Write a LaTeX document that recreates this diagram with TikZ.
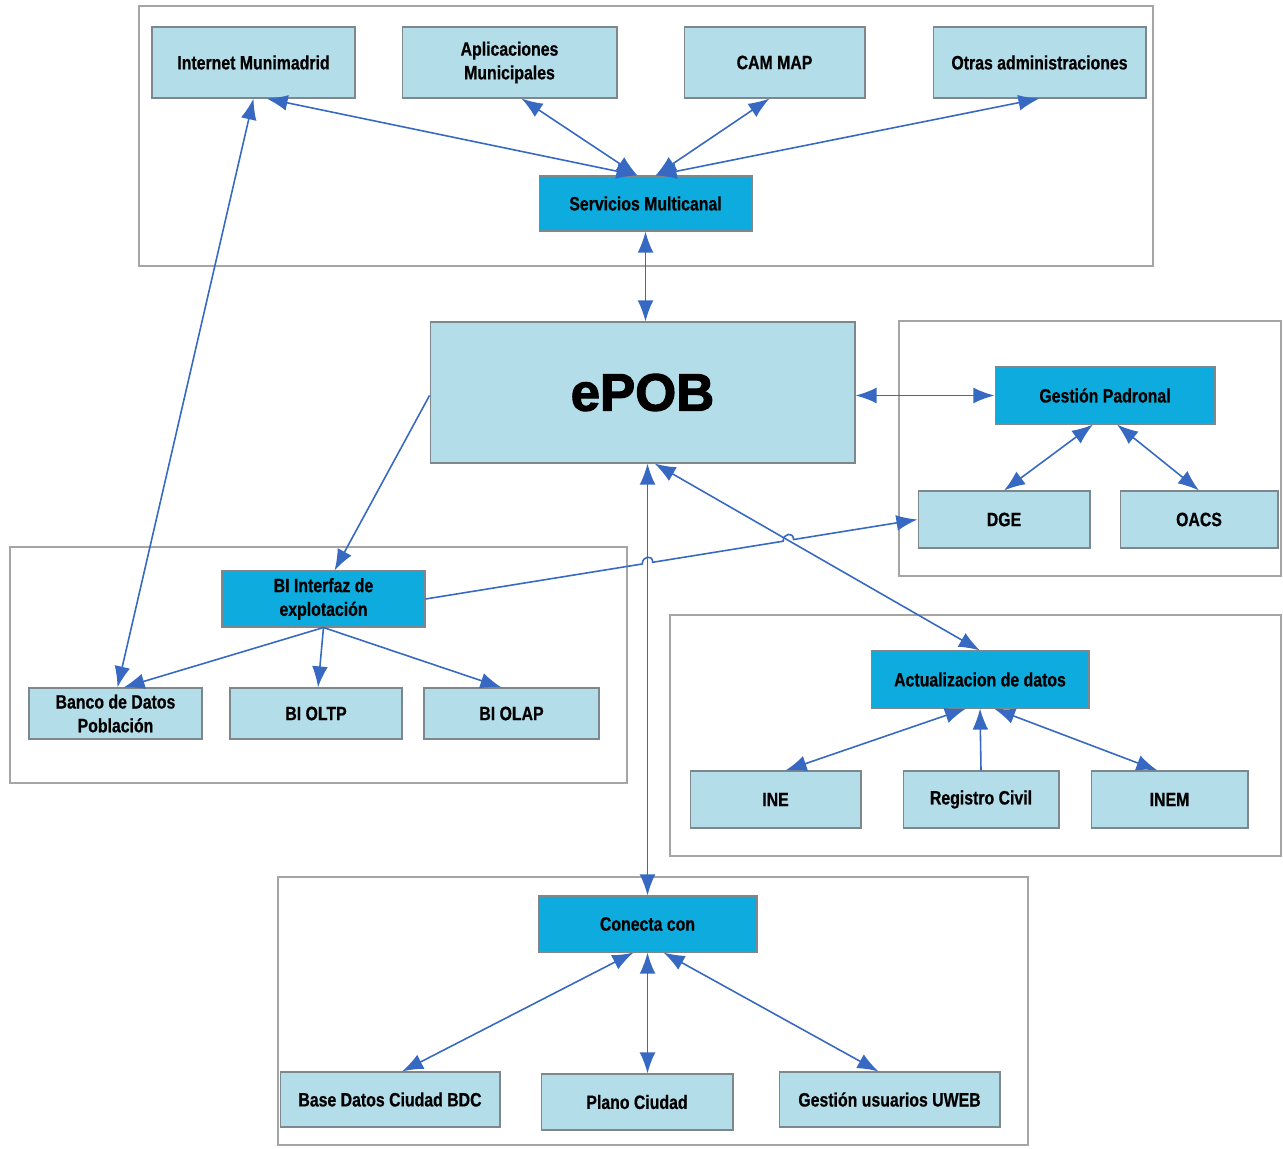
\documentclass[tikz,border=0pt]{standalone}
\usepackage{fontspec}
\setmainfont{Liberation Sans}
\newfontfamily\boxfont{Liberation Sans}[FakeStretch=0.82, FakeBold=0.6]
\newfontfamily\titlefont{Liberation Sans}[FakeBold=2.2]
\usetikzlibrary{arrows.meta,calc,intersections,positioning}
\definecolor{boxlight}{RGB}{178,221,233}
\definecolor{boxdark}{RGB}{14,172,222}
\definecolor{boxedge}{RGB}{125,135,140}
\definecolor{frameedge}{RGB}{165,165,165}
\definecolor{linkblue}{RGB}{55,105,195}
\tikzset{
        box/.style={align=center,inner sep=0pt,draw=boxedge,line width=0.6pt,font=\boxfont\bfseries\fontsize{11}{13.5}\selectfont},
        % Dimensions of a box
        dims/.style 2 args={minimum width=#1,minimum height=#2},
        % Light boxes
        box_light/.style={box, fill=boxlight},
        % Dark boxes
        box_dark/.style={box, fill=boxdark},
        % Group frames
        box_frame/.style={draw=frameedge, line width=0.9pt},
        % Connectors
        link/.style={draw=linkblue, line width=0.9pt, >={Latex[length=12pt,width=9pt]}}
}

\begin{document}
\begin{tikzpicture}[x=0.02cm, y=-0.02cm]
            \useasboundingbox (0,0) rectangle (1283,1148);
            % frames
            \draw[box_frame] (139,6) rectangle (1153,266);
            \draw[box_frame] (899,321) rectangle (1281,576);
            \draw[box_frame] (10,547) rectangle (627,783);
            \draw[box_frame] (670,615) rectangle (1281,856);
            \draw[box_frame] (278,877) rectangle (1028,1145);

            % top group
            \node[box_light, dims={4.06cm}{1.42cm}] (internet) at (253.5,62.5) {Internet Munimadrid};
            \node[box_light, dims={4.30cm}{1.42cm}] (aplic) at (509.5,62.5) {Aplicaciones\\Municipales};
            \node[box_light, dims={3.62cm}{1.42cm}] (cam) at (774.5,62.5) {CAM MAP};
            \node[box_light, dims={4.26cm}{1.42cm}] (otras) at (1039.5,62.5) {Otras administraciones};
            \node[box_dark, dims={4.26cm}{1.10cm}] (servicios) at (645.5,203.5) {Servicios Multicanal};

            % centre
            \node[box_light, dims={8.50cm}{2.82cm}, font=\titlefont\bfseries\fontsize{30}{30}\selectfont] (epob) at (642.5,392.5) {ePOB};

            % padron group
            \node[box_dark, dims={4.40cm}{1.14cm}] (gestion) at (1105,395.5) {Gestión Padronal};
            \node[box_light, dims={3.44cm}{1.14cm}] (dge) at (1004,519.5) {DGE};
            \node[box_light, dims={3.16cm}{1.14cm}] (oacs) at (1199,519.5) {OACS};

            % BI group
            \node[box_dark, dims={4.06cm}{1.12cm}] (biint) at (323.5,599) {BI Interfaz de\\explotación};
            \node[box_light, dims={3.46cm}{1.02cm}] (banco) at (115.5,713.5) {Banco de Datos\\Población};
            \node[box_light, dims={3.44cm}{1.02cm}] (oltp) at (316,713.5) {BI OLTP};
            \node[box_light, dims={3.50cm}{1.02cm}] (olap) at (511.5,713.5) {BI OLAP};

            % update group
            \node[box_dark, dims={4.36cm}{1.14cm}] (act) at (980,679.5) {Actualizacion de datos};
            \node[box_light, dims={3.42cm}{1.14cm}] (ine) at (775.5,799.5) {INE};
            \node[box_light, dims={3.12cm}{1.14cm}] (reg) at (981,799.5) {Registro Civil};
            \node[box_light, dims={3.14cm}{1.14cm}] (inem) at (1169.5,799.5) {INEM};

            % connect group
            \node[box_dark, dims={4.38cm}{1.12cm}] (conecta) at (647.5,924) {Conecta con};
            \node[box_light, dims={4.40cm}{1.10cm}] (bdc) at (390,1099.5) {Base Datos Ciudad BDC};
            \node[box_light, dims={3.84cm}{1.12cm}] (plano) at (637,1102) {Plano Ciudad};
            \node[box_light, dims={4.42cm}{1.10cm}] (uweb) at (889.5,1099.5) {Gestión usuarios UWEB};

            % links, top
            \draw[link, <->] ($(internet.south)+(13,0)$) -- ($(servicios.north)+(-8,0)$);
            \draw[link, <->] ($(aplic.south)+(12,0)$) -- ($(servicios.north)+(-8,0)$);
            \draw[link, <->] ($(cam.south)+(-5,0)$) -- ($(servicios.north)+(10,0)$);
            \draw[link, <->] (otras.south) -- ($(servicios.north)+(10,0)$);
            \draw[link, <->] (servicios.south) -- (servicios.south |- epob.north);

            % links, padron
            \draw[link, <->] (epob.east |- gestion.west) -- (gestion.west);
            \draw[link, <->] ($(gestion.south)+(-12,0)$) -- (dge.north);
            \draw[link, <->] ($(gestion.south)+(12,0)$) -- (oacs.north);

            % links, BI
            \draw[link, ->] ($(epob.west)+(0,3)$) -- ($(biint.north)+(11,0)$);
            \draw[link, <->] (internet.south) -- ($(banco.north)+(2,0)$);
            \draw[link, ->] (biint.south) -- ($(banco.north)+(8,0)$);
            \draw[link, ->] (biint.south) -- ($(oltp.north)+(2,0)$);
            \draw[link, ->] (biint.south) -- ($(olap.north)+(-10,0)$);

            % links, epob down
            \draw[link, <->, name path=vline] (conecta.north |- epob.south) -- (conecta.north);
            \draw[link, <->, name path=actline] ($(epob.south)+(12,0)$) -- (act.north);

            % BI to DGE, jumping over the crossings
            \path[name path=biline] (biint.east) -- (dge.west);
            \path[name intersections={of=biline and vline, by=j1}];
            \path[name intersections={of=biline and actline, by=j2}];
            \coordinate (j1a) at ($(j1)!3pt!(biint.east)$);
            \coordinate (j1b) at ($(j1)!3pt!(dge.west)$);
            \coordinate (j2a) at ($(j2)!3pt!(biint.east)$);
            \coordinate (j2b) at ($(j2)!3pt!(dge.west)$);
            \draw[link, ->] (biint.east) -- (j1a)
                .. controls ($(j1a)+(0,-8)$) and ($(j1b)+(0,-8)$) .. (j1b) -- (j2a)
                .. controls ($(j2a)+(0,-8)$) and ($(j2b)+(0,-8)$) .. (j2b) -- (dge.west);

            % links, update
            \draw[link, <->] ($(act.south)+(-14,0)$) -- ($(ine.north)+(10,0)$);
            \draw[link, ->] (reg.north) -- (act.south);
            \draw[link, <->] ($(act.south)+(14,0)$) -- ($(inem.north)+(-12,0)$);

            % links, connect
            \draw[link, <->] ($(conecta.south)+(-14,0)$) -- ($(bdc.north)+(12,0)$);
            \draw[link, <->] (conecta.south) -- (conecta.south |- plano.north);
            \draw[link, <->] ($(conecta.south)+(16,0)$) -- ($(uweb.north)+(-11,0)$);
\end{tikzpicture}
\end{document}
